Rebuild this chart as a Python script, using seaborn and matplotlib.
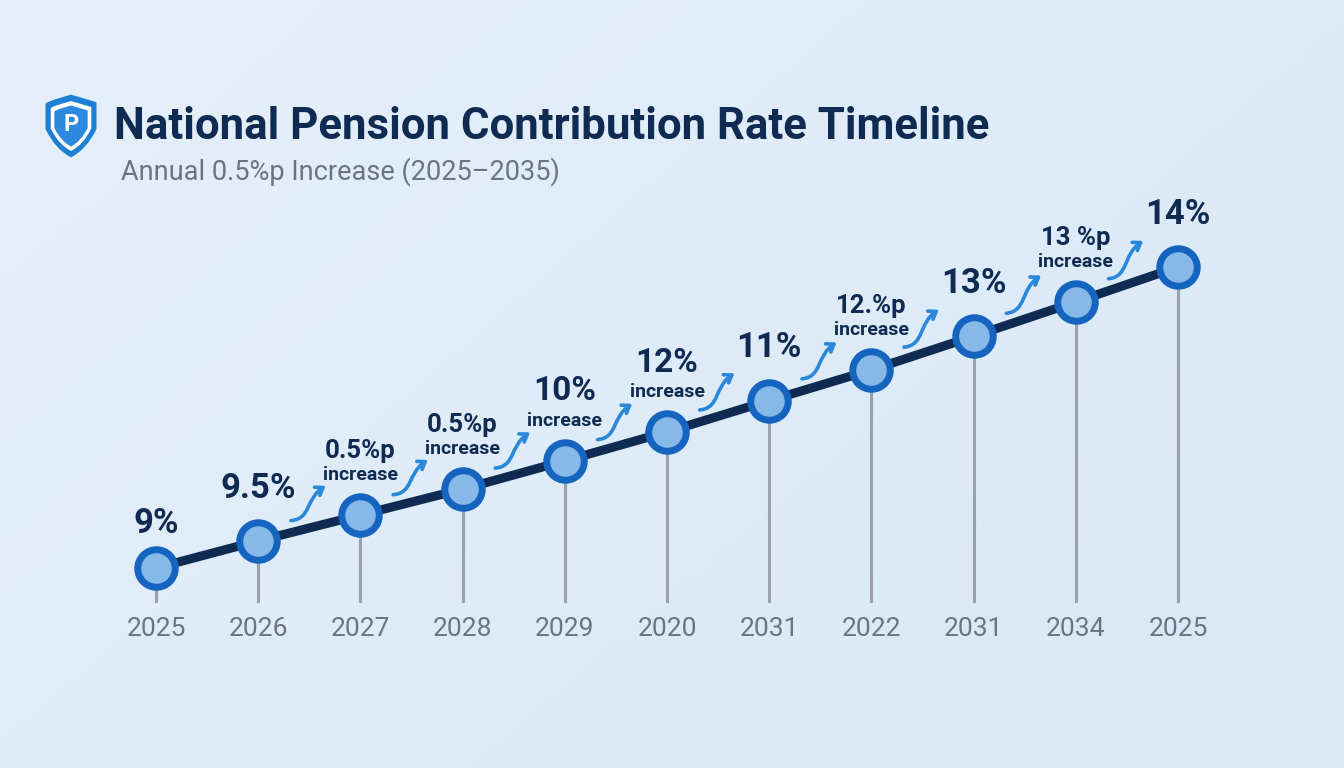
import numpy as np
import pandas as pd
import seaborn as sns
import matplotlib.pyplot as plt
from matplotlib.path import Path
from matplotlib.patches import FancyArrowPatch, PathPatch
from matplotlib.colors import LinearSegmentedColormap

# data
years = ["2025", "2026", "2027", "2028", "2029", "2020", "2031", "2022", "2031", "2034", "2025"]
rates = [9.0, 9.45, 9.88, 10.31, 10.78, 11.26, 11.78, 12.29, 12.85, 13.42, 14.0]
top_labels = ["9%", "9.5%", "0.5%p", "0.5%p", "10%", "12%", "11%", "12.%p", "13%", "13 %p", "14%"]
sub_labels = ["", "", "increase", "increase", "increase", "increase", "", "increase", "", "increase", ""]

TITLE = "National Pension Contribution Rate Timeline"
SUBTITLE = "Annual 0.5%p Increase (2025\u20132035)"

NAVY = "#0f2b52"
BLUE = "#1565c0"
LIGHT = "#86b9e8"
ARROW = "#2a88da"
GREY_TXT = "#6b7580"
STEM = "#9aa1a8"

sns.set_theme(style="white")
plt.rcParams["font.family"] = ["Roboto", "DejaVu Sans"]

df = pd.DataFrame({"idx": np.arange(len(years)), "rate": rates, "year": years})

W, H = 1344, 768
fig = plt.figure(figsize=(W / 100, H / 100), dpi=100)

# soft gradient background
bg = fig.add_axes([0, 0, 1, 1], zorder=-10)
cmap = LinearSegmentedColormap.from_list("bg", ["#e5eff9", "#d8e8f7"])
gx, gy = np.meshgrid(np.linspace(0, 1, 200), np.linspace(0, 1, 120))
bg.imshow(gx * 0.6 + gy * 0.4, cmap=cmap, aspect="auto", extent=[0, 1, 0, 1])
bg.axis("off")

# main axes: bottom edge sits where the stems end
bottom_px = 165
ax = fig.add_axes([0, bottom_px / H, 1, (H - bottom_px) / H])
ax.patch.set_alpha(0)
px_x = 102.2   # pixels per step
px_y = 60.2    # pixels per 1 %
ax.set_xlim(-156 / px_x, 10 + (W - 1178) / px_x)
ax.set_ylim(9 - (200 - bottom_px) / px_y, 9 + (H - 200) / px_y)

# stems
ax.vlines(df["idx"], ax.get_ylim()[0], df["rate"], color=STEM, lw=2.2, zorder=1)

# line + markers
sns.lineplot(data=df, x="idx", y="rate", ax=ax, color=NAVY, lw=6.5, zorder=2,
             marker="o", markersize=27, markerfacecolor=LIGHT,
             markeredgecolor=BLUE, markeredgewidth=5)

# value / increase labels
for i, (r, top, sub) in enumerate(zip(rates, top_labels, sub_labels)):
    big = "%p" not in top
    if sub:
        size = 24 if big else 18.5
        off_top = 50 if big else 46
        ax.annotate(top, (i, r), xytext=(0, off_top), textcoords="offset points",
                    ha="center", va="center", fontsize=size, weight="bold", color=NAVY)
        ax.annotate(sub, (i, r), xytext=(0, 29), textcoords="offset points",
                    ha="center", va="center", fontsize=14, weight="bold", color=NAVY)
    else:
        off = 32 if i == 0 else 38
        ax.annotate(top, (i, r), xytext=(0, off), textcoords="offset points",
                    ha="center", va="center", fontsize=25, weight="bold", color=NAVY)

# curved arrows between points
def line_at(x):
    return np.interp(x, df["idx"], df["rate"])

for i in range(1, len(years) - 1):
    sx, ex = i + 0.32, i + 0.66
    sy = line_at(sx) + 12 / px_y
    ey = line_at(ex) + 38 / px_y
    verts = [(sx, sy), (sx + 0.2, sy + 0.03), (ex - 0.2, ey - 0.22), (ex, ey)]
    path = Path(verts, [Path.MOVETO, Path.CURVE4, Path.CURVE4, Path.CURVE4])
    arr = FancyArrowPatch(path=path, arrowstyle="->,head_length=5,head_width=3.5",
                          color=ARROW, lw=2.6, zorder=3, capstyle="round", joinstyle="round")
    ax.add_patch(arr)

ax.set_xticks(df["idx"])
ax.set_xticklabels(years)
ax.set_yticks([])
ax.tick_params(axis="x", length=0, pad=10, labelsize=19, labelcolor=GREY_TXT)
ax.set_xlabel("")
ax.set_ylabel("")
sns.despine(ax=ax, left=True, bottom=True)

# title + subtitle
fig.text(114 / W, 1 - 127 / H, TITLE, fontsize=31.5, weight="bold", color=NAVY, va="center")
fig.text(121 / W, 1 - 172 / H, SUBTITLE, fontsize=19.5, color=GREY_TXT, va="center")

# shield icon
ic = fig.add_axes([45 / W, 1 - 158 / H, 52 / W, 64 / H])
ic.set_xlim(0, 1)
ic.set_ylim(0, 1)
ic.axis("off")

def shield(s):
    cx, top, bot = 0.5, 0.5 + 0.5 * s, 0.5 - 0.5 * s
    hw = 0.5 * s
    v = [(cx, top), (cx + hw * 0.5, top - 0.06 * s), (cx + hw, top - 0.12 * s),
         (cx + hw, top - 0.15 * s), (cx + hw, top - 0.55 * s), (cx + hw * 0.6, bot + 0.12 * s),
         (cx, bot), (cx - hw * 0.6, bot + 0.12 * s), (cx - hw, top - 0.55 * s),
         (cx - hw, top - 0.15 * s), (cx - hw, top - 0.12 * s), (cx - hw * 0.5, top - 0.06 * s),
         (cx, top), (cx, top)]
    c = [Path.MOVETO, Path.CURVE3, Path.CURVE3, Path.LINETO, Path.LINETO, Path.CURVE3,
         Path.CURVE3, Path.CURVE3, Path.CURVE3, Path.LINETO, Path.CURVE3, Path.CURVE3,
         Path.LINETO, Path.CLOSEPOLY]
    return Path(v, c)

ic.add_patch(PathPatch(shield(0.98), fc="#1f7fd5", ec="none"))
ic.add_patch(PathPatch(shield(0.78), fc="white", ec="none"))
ic.add_patch(PathPatch(shield(0.64), fc="#2b8ae0", ec="none"))
ic.text(0.5, 0.53, "P", ha="center", va="center", fontsize=17, weight="bold", color="white")

fig.savefig("out.png", dpi=100)
